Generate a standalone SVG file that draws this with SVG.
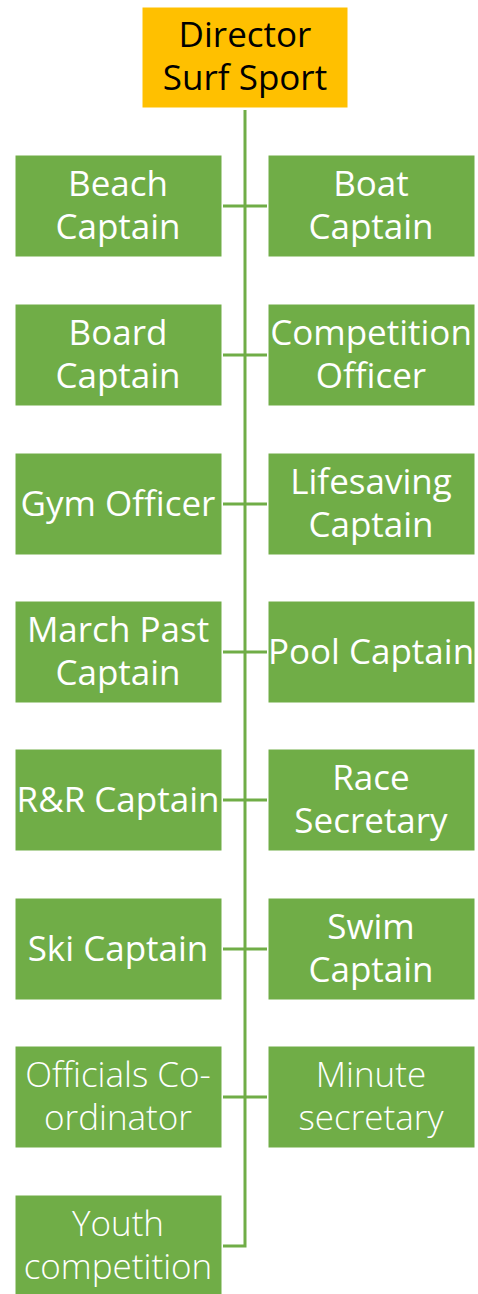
<svg xmlns="http://www.w3.org/2000/svg" width="478" height="1294" viewBox="0 0 478 1294">
<style>
.box{fill:#70AD47;stroke:#ffffff;stroke-width:1}
.top{fill:#FFC000;stroke:#ffffff;stroke-width:1}
.t{font-family:"Open Sans","Noto Sans",sans-serif;font-size:35px;font-weight:400;fill:#ffffff;text-anchor:middle}
.l{font-weight:300}
.td{font-family:"Open Sans","Noto Sans",sans-serif;font-size:35px;fill:#000000;text-anchor:middle}
.c{stroke:#70AD47;stroke-width:3;fill:none}
</style>
<rect width="478" height="1294" fill="#ffffff"/>
<g id="connectors">
<path class="c" d="M245,110 V1246 H223"/>
<path class="c" d="M223,206 H267 M223,355 H267 M223,504 H267 M223,652 H267 M223,800 H267 M223,949 H267 M223,1097 H267"/>
</g>
<g id="director"><rect class="top" x="142" y="7" width="206" height="101"/><text class="td" x="245" y="47">Director</text><text class="td" x="245" y="90">Surf Sport</text></g>
<g id="beach"><rect class="box" x="15" y="155" width="207" height="102"/><text class="t" x="118" y="196">Beach</text><text class="t" x="118" y="239">Captain</text></g>
<g id="boat"><rect class="box" x="268" y="155" width="207" height="102"/><text class="t" x="371" y="196">Boat</text><text class="t" x="371" y="239">Captain</text></g>
<g id="board"><rect class="box" x="15" y="304" width="207" height="102"/><text class="t" x="118" y="345">Board</text><text class="t" x="118" y="388">Captain</text></g>
<g id="competition"><rect class="box" x="268" y="304" width="207" height="102"/><text class="t" x="371" y="345">Competition</text><text class="t" x="371" y="388">Officer</text></g>
<g id="gym"><rect class="box" x="15" y="453" width="207" height="102"/><text class="t" x="118" y="516">Gym Officer</text></g>
<g id="lifesaving"><rect class="box" x="268" y="453" width="207" height="102"/><text class="t" x="371" y="494">Lifesaving</text><text class="t" x="371" y="537">Captain</text></g>
<g id="marchpast"><rect class="box" x="15" y="601" width="207" height="102"/><text class="t" x="118" y="642">March Past</text><text class="t" x="118" y="685">Captain</text></g>
<g id="pool"><rect class="box" x="268" y="601" width="207" height="102"/><text class="t" x="371" y="664">Pool Captain</text></g>
<g id="rr"><rect class="box" x="15" y="749" width="207" height="102"/><text class="t" x="118" y="812">R&amp;R Captain</text></g>
<g id="race"><rect class="box" x="268" y="749" width="207" height="102"/><text class="t" x="371" y="790">Race</text><text class="t" x="371" y="833">Secretary</text></g>
<g id="ski"><rect class="box" x="15" y="898" width="207" height="102"/><text class="t" x="118" y="961">Ski Captain</text></g>
<g id="swim"><rect class="box" x="268" y="898" width="207" height="102"/><text class="t" x="371" y="939">Swim</text><text class="t" x="371" y="982">Captain</text></g>
<g id="officials"><rect class="box" x="15" y="1046" width="207" height="102"/><text class="t l" x="118" y="1087">Officials Co-</text><text class="t l" x="118" y="1130">ordinator</text></g>
<g id="minute"><rect class="box" x="268" y="1046" width="207" height="102"/><text class="t l" x="371" y="1087">Minute</text><text class="t l" x="371" y="1130">secretary</text></g>
<g id="youth"><rect class="box" x="15" y="1195" width="207" height="102"/><text class="t l" x="118" y="1236">Youth</text><text class="t l" x="118" y="1279">competition</text></g>
</svg>
